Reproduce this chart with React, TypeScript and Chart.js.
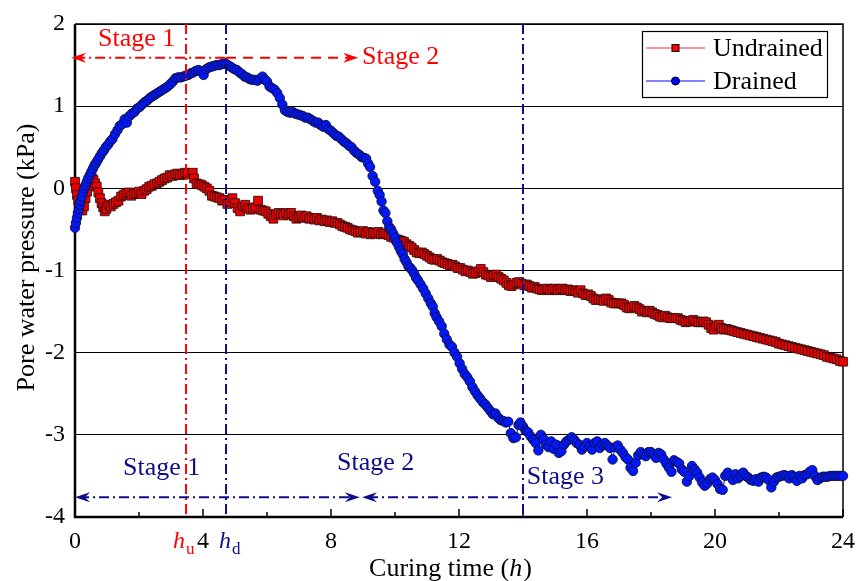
import React, { useEffect, useRef } from 'react';
import { Chart, registerables } from 'chart.js';

Chart.register(...registerables);

const FONT = '"Liberation Serif", "Times New Roman", Times, serif';
const RED = '#ff0000';
const NAVY = '#0d0d8a';

// Axis tick values
const xTickValues = [0, 4, 8, 12, 16, 20, 24];
const xMinorTicks = [2, 6, 10, 14, 18, 22];
const yTickValues = [-4, -3, -2, -1, 0, 1, 2];

const seriesNames = ['Undrained', 'Drained'];

// Curing time (h), pore water pressure (kPa) — undrained specimen
const undrained: [number, number][] = [
  [0.00, 0.08], [0.03, 0.00], [0.06, -0.08], [0.10, -0.15], [0.14, -0.20], [0.18, -0.25],
  [0.23, -0.27], [0.28, -0.22], [0.33, -0.12], [0.38, -0.04], [0.43, 0.03], [0.48, 0.08],
  [0.53, 0.12], [0.58, 0.10], [0.63, 0.06], [0.68, 0.02], [0.73, -0.05], [0.78, -0.12],
  [0.83, -0.18], [0.88, -0.23], [0.93, -0.28], [0.98, -0.25], [1.05, -0.20], [1.12, -0.22],
  [1.20, -0.19], [1.28, -0.17], [1.36, -0.15], [1.44, -0.10], [1.52, -0.08], [1.60, -0.06],
  [1.68, -0.05], [1.76, -0.09], [1.84, -0.07], [1.92, -0.06], [2.00, -0.04], [2.08, -0.07],
  [2.16, -0.03], [2.24, -0.01], [2.32, 0.02], [2.40, 0.03], [2.48, 0.05], [2.56, 0.06],
  [2.64, 0.08], [2.72, 0.10], [2.80, 0.12], [2.88, 0.13], [2.96, 0.16], [3.04, 0.15],
  [3.12, 0.17], [3.20, 0.18], [3.28, 0.16], [3.36, 0.17], [3.44, 0.19], [3.52, 0.18],
  [3.60, 0.17], [3.68, 0.19], [3.72, 0.12], [3.80, 0.06], [3.88, 0.05], [3.96, 0.04],
  [4.04, 0.02], [4.12, 0.00], [4.20, -0.03], [4.28, -0.09], [4.36, -0.10], [4.44, -0.11],
  [4.52, -0.12], [4.60, -0.15], [4.68, -0.14], [4.76, -0.19], [4.84, -0.16], [4.92, -0.12],
  [5.00, -0.18], [5.08, -0.24], [5.16, -0.28], [5.24, -0.22], [5.32, -0.20], [5.40, -0.24],
  [5.48, -0.26], [5.56, -0.25], [5.64, -0.23], [5.72, -0.15], [5.80, -0.26], [5.88, -0.27],
  [5.96, -0.28], [6.04, -0.31], [6.12, -0.34], [6.20, -0.37], [6.28, -0.32], [6.36, -0.30],
  [6.44, -0.31], [6.52, -0.33], [6.60, -0.30], [6.68, -0.32], [6.76, -0.30], [6.84, -0.34],
  [6.92, -0.37], [7.00, -0.35], [7.08, -0.33], [7.16, -0.36], [7.24, -0.34], [7.32, -0.37],
  [7.40, -0.36], [7.48, -0.38], [7.56, -0.36], [7.64, -0.39], [7.72, -0.38], [7.80, -0.40],
  [7.88, -0.39], [7.96, -0.41], [8.04, -0.40], [8.12, -0.42], [8.20, -0.42], [8.28, -0.44],
  [8.36, -0.46], [8.44, -0.47], [8.52, -0.48], [8.60, -0.50], [8.68, -0.51], [8.76, -0.52],
  [8.84, -0.54], [8.92, -0.53], [9.00, -0.52], [9.08, -0.55], [9.16, -0.53], [9.24, -0.56],
  [9.32, -0.54], [9.40, -0.55], [9.48, -0.53], [9.56, -0.56], [9.64, -0.55], [9.72, -0.55],
  [9.80, -0.57], [9.88, -0.59], [9.96, -0.60], [10.04, -0.62], [10.12, -0.63], [10.20, -0.64],
  [10.28, -0.65], [10.36, -0.68], [10.44, -0.70], [10.52, -0.72], [10.60, -0.75], [10.68, -0.78],
  [10.76, -0.79], [10.84, -0.78], [10.92, -0.80], [11.00, -0.82], [11.08, -0.84], [11.16, -0.86],
  [11.24, -0.87], [11.32, -0.86], [11.40, -0.88], [11.48, -0.90], [11.56, -0.91], [11.64, -0.92],
  [11.72, -0.94], [11.80, -0.93], [11.88, -0.95], [11.96, -0.97], [12.04, -0.97], [12.12, -0.99],
  [12.20, -1.01], [12.28, -1.00], [12.36, -1.02], [12.44, -1.04], [12.52, -1.03], [12.60, -1.01],
  [12.68, -0.98], [12.76, -1.02], [12.84, -1.05], [12.92, -1.06], [13.00, -1.08], [13.08, -1.06],
  [13.16, -1.05], [13.24, -1.08], [13.32, -1.10], [13.40, -1.12], [13.48, -1.15], [13.56, -1.18],
  [13.64, -1.19], [13.72, -1.17], [13.80, -1.15], [13.88, -1.14], [13.96, -1.16], [14.04, -1.18],
  [14.12, -1.17], [14.20, -1.19], [14.28, -1.21], [14.36, -1.20], [14.44, -1.22], [14.52, -1.23],
  [14.60, -1.24], [14.68, -1.23], [14.76, -1.22], [14.84, -1.24], [14.92, -1.23], [15.00, -1.22],
  [15.08, -1.24], [15.16, -1.23], [15.24, -1.22], [15.32, -1.24], [15.40, -1.23], [15.48, -1.25],
  [15.56, -1.24], [15.64, -1.25], [15.72, -1.27], [15.80, -1.24], [15.88, -1.28], [15.96, -1.30],
  [16.04, -1.29], [16.12, -1.31], [16.20, -1.34], [16.28, -1.36], [16.36, -1.35], [16.44, -1.36],
  [16.52, -1.37], [16.60, -1.34], [16.68, -1.36], [16.76, -1.39], [16.84, -1.40], [16.92, -1.40],
  [17.00, -1.40], [17.08, -1.40], [17.16, -1.42], [17.24, -1.45], [17.32, -1.46], [17.40, -1.45],
  [17.48, -1.43], [17.56, -1.45], [17.64, -1.47], [17.72, -1.50], [17.80, -1.49], [17.88, -1.51],
  [17.96, -1.49], [18.04, -1.51], [18.12, -1.53], [18.20, -1.54], [18.28, -1.56], [18.36, -1.57],
  [18.44, -1.55], [18.52, -1.57], [18.60, -1.58], [18.68, -1.58], [18.76, -1.58], [18.84, -1.58],
  [18.92, -1.60], [19.00, -1.61], [19.08, -1.63], [19.16, -1.62], [19.24, -1.62], [19.32, -1.60],
  [19.40, -1.62], [19.48, -1.63], [19.56, -1.63], [19.64, -1.62], [19.72, -1.63], [19.80, -1.66],
  [19.88, -1.70], [19.96, -1.72], [20.04, -1.68], [20.12, -1.66], [20.20, -1.70], [20.28, -1.72],
  [20.36, -1.71], [20.44, -1.72], [20.52, -1.73], [20.60, -1.74], [20.70, -1.75], [20.80, -1.76],
  [20.90, -1.77], [21.00, -1.78], [21.10, -1.79], [21.20, -1.80], [21.30, -1.81], [21.40, -1.82],
  [21.50, -1.83], [21.60, -1.84], [21.70, -1.85], [21.80, -1.86], [21.90, -1.87], [22.00, -1.89],
  [22.10, -1.90], [22.20, -1.91], [22.30, -1.92], [22.40, -1.93], [22.50, -1.94], [22.60, -1.95],
  [22.70, -1.96], [22.80, -1.97], [22.90, -1.98], [23.00, -1.99], [23.10, -2.00], [23.20, -2.01],
  [23.30, -2.02], [23.40, -2.03], [23.50, -2.05], [23.60, -2.06], [23.70, -2.07], [23.80, -2.08],
  [23.90, -2.10], [24.00, -2.11],
];

// Curing time (h), pore water pressure (kPa) — drained specimen
const drained: [number, number][] = [
  [0.00, -0.48], [0.03, -0.42], [0.06, -0.36], [0.09, -0.30], [0.12, -0.25], [0.15, -0.20],
  [0.18, -0.15], [0.21, -0.10], [0.25, -0.05], [0.29, 0.00], [0.33, 0.04], [0.37, 0.08],
  [0.41, 0.12], [0.46, 0.16], [0.51, 0.20], [0.56, 0.24], [0.61, 0.28], [0.66, 0.31],
  [0.72, 0.35], [0.78, 0.39], [0.84, 0.43], [0.90, 0.46], [0.96, 0.50], [1.03, 0.53],
  [1.10, 0.57], [1.17, 0.60], [1.25, 0.66], [1.33, 0.71], [1.40, 0.76], [1.47, 0.78],
  [1.55, 0.84], [1.62, 0.80], [1.70, 0.88], [1.78, 0.91], [1.86, 0.93], [1.94, 0.97],
  [2.02, 0.99], [2.10, 1.02], [2.18, 1.05], [2.26, 1.07], [2.34, 1.10], [2.42, 1.12],
  [2.50, 1.14], [2.58, 1.16], [2.66, 1.18], [2.74, 1.20], [2.82, 1.22], [2.90, 1.24],
  [2.98, 1.27], [3.06, 1.30], [3.14, 1.34], [3.22, 1.35], [3.30, 1.35], [3.38, 1.36],
  [3.46, 1.37], [3.54, 1.38], [3.62, 1.40], [3.70, 1.41], [3.78, 1.43], [3.86, 1.44],
  [3.94, 1.42], [4.02, 1.38], [4.10, 1.45], [4.18, 1.47], [4.26, 1.48], [4.34, 1.49],
  [4.42, 1.50], [4.50, 1.50], [4.58, 1.51], [4.66, 1.52], [4.74, 1.51], [4.82, 1.49],
  [4.90, 1.47], [4.98, 1.45], [5.06, 1.44], [5.14, 1.41], [5.22, 1.39], [5.30, 1.36],
  [5.38, 1.35], [5.46, 1.33], [5.54, 1.32], [5.62, 1.32], [5.70, 1.31], [5.78, 1.33],
  [5.86, 1.36], [5.94, 1.32], [6.00, 1.30], [6.08, 1.24], [6.16, 1.22], [6.24, 1.20],
  [6.32, 1.16], [6.40, 1.10], [6.48, 1.02], [6.56, 0.95], [6.64, 0.93], [6.72, 0.92],
  [6.80, 0.93], [6.88, 0.91], [6.96, 0.90], [7.04, 0.89], [7.12, 0.88], [7.20, 0.86],
  [7.28, 0.86], [7.36, 0.84], [7.44, 0.82], [7.52, 0.80], [7.60, 0.80], [7.68, 0.77],
  [7.76, 0.75], [7.84, 0.77], [7.92, 0.72], [8.00, 0.70], [8.08, 0.67], [8.16, 0.64],
  [8.24, 0.63], [8.32, 0.60], [8.40, 0.57], [8.48, 0.55], [8.56, 0.52], [8.64, 0.50],
  [8.72, 0.46], [8.80, 0.43], [8.88, 0.41], [8.96, 0.38], [9.04, 0.37], [9.10, 0.36],
  [9.16, 0.30], [9.22, 0.26], [9.30, 0.15], [9.38, 0.08], [9.46, -0.03], [9.52, -0.08],
  [9.58, -0.16], [9.64, -0.27], [9.70, -0.30], [9.76, -0.40], [9.82, -0.47], [9.88, -0.50],
  [9.94, -0.55], [10.00, -0.60], [10.06, -0.66], [10.12, -0.71], [10.18, -0.76], [10.24, -0.80],
  [10.30, -0.86], [10.36, -0.90], [10.42, -0.95], [10.48, -0.97], [10.54, -1.00], [10.60, -1.04],
  [10.66, -1.09], [10.72, -1.12], [10.80, -1.17], [10.88, -1.22], [10.96, -1.28], [11.04, -1.34],
  [11.12, -1.40], [11.18, -1.44], [11.24, -1.52], [11.30, -1.57], [11.38, -1.62], [11.46, -1.68],
  [11.54, -1.77], [11.62, -1.84], [11.70, -1.90], [11.78, -1.93], [11.86, -2.00], [11.94, -2.05],
  [12.02, -2.13], [12.10, -2.20], [12.18, -2.26], [12.26, -2.30], [12.34, -2.35], [12.42, -2.42],
  [12.50, -2.47], [12.58, -2.52], [12.66, -2.56], [12.74, -2.60], [12.82, -2.63], [12.90, -2.67],
  [12.98, -2.71], [13.06, -2.75], [13.14, -2.74], [13.22, -2.79], [13.30, -2.82], [13.38, -2.83],
  [13.46, -2.85], [13.54, -2.84], [13.62, -2.98], [13.70, -3.04], [13.78, -3.03], [13.86, -2.88],
  [13.92, -2.85], [14.00, -2.90], [14.08, -2.95], [14.16, -2.97], [14.24, -3.02], [14.32, -3.06],
  [14.40, -3.10], [14.48, -3.19], [14.56, -3.00], [14.64, -3.05], [14.72, -3.12], [14.80, -3.15],
  [14.88, -3.08], [14.96, -3.17], [15.04, -3.12], [15.12, -3.22], [15.20, -3.20], [15.28, -3.12],
  [15.36, -3.08], [15.44, -3.06], [15.52, -3.03], [15.60, -3.06], [15.68, -3.10], [15.76, -3.12],
  [15.84, -3.18], [15.92, -3.14], [16.00, -3.10], [16.08, -3.14], [16.16, -3.18], [16.24, -3.10],
  [16.32, -3.08], [16.40, -3.16], [16.48, -3.12], [16.56, -3.10], [16.64, -3.13], [16.72, -3.16],
  [16.80, -3.30], [16.88, -3.15], [16.96, -3.13], [17.04, -3.18], [17.12, -3.22], [17.20, -3.27],
  [17.28, -3.30], [17.36, -3.40], [17.44, -3.44], [17.52, -3.34], [17.60, -3.25], [17.68, -3.21],
  [17.76, -3.24], [17.84, -3.26], [17.92, -3.21], [18.00, -3.21], [18.08, -3.24], [18.16, -3.28],
  [18.24, -3.22], [18.32, -3.24], [18.40, -3.30], [18.48, -3.35], [18.56, -3.40], [18.64, -3.45],
  [18.72, -3.31], [18.80, -3.33], [18.88, -3.35], [18.96, -3.42], [19.04, -3.45], [19.12, -3.57],
  [19.20, -3.50], [19.28, -3.38], [19.36, -3.42], [19.44, -3.46], [19.52, -3.52], [19.60, -3.58],
  [19.68, -3.62], [19.76, -3.59], [19.84, -3.54], [19.92, -3.52], [20.00, -3.55], [20.08, -3.60],
  [20.16, -3.66], [20.24, -3.67], [20.32, -3.50], [20.40, -3.46], [20.48, -3.50], [20.56, -3.55],
  [20.64, -3.48], [20.72, -3.53], [20.80, -3.50], [20.88, -3.46], [20.96, -3.50], [21.04, -3.52],
  [21.12, -3.55], [21.20, -3.56], [21.28, -3.54], [21.36, -3.57], [21.44, -3.52], [21.52, -3.51],
  [21.60, -3.52], [21.68, -3.55], [21.76, -3.64], [21.84, -3.57], [21.92, -3.52], [22.00, -3.51],
  [22.08, -3.50], [22.16, -3.49], [22.24, -3.50], [22.32, -3.53], [22.40, -3.49], [22.48, -3.51],
  [22.56, -3.56], [22.64, -3.50], [22.72, -3.53], [22.80, -3.49], [22.88, -3.48], [22.96, -3.45],
  [23.04, -3.43], [23.12, -3.50], [23.20, -3.55], [23.28, -3.53], [23.36, -3.51], [23.44, -3.51],
  [23.52, -3.51], [23.60, -3.50], [23.68, -3.50], [23.76, -3.50], [23.84, -3.50], [23.92, -3.50],
  [24.00, -3.50],
];

// Stage boundaries (h)
const hU = 3.47;
const hD = 4.72;
const drainedStage3 = 14;

// Stage arrows: y level (kPa)
const undrainedArrowY = 1.59;
const drainedArrowY = -3.76;

type Ctx = CanvasRenderingContext2D;

function arrowHead(ctx: Ctx, tipX: number, y: number, dir: number, color: string) {
  const len = 15;
  const half = 5;
  const notch = 10;
  ctx.save();
  ctx.setLineDash([]);
  ctx.fillStyle = color;
  ctx.beginPath();
  ctx.moveTo(tipX, y);
  ctx.lineTo(tipX - dir * len, y - half);
  ctx.lineTo(tipX - dir * notch, y);
  ctx.lineTo(tipX - dir * len, y + half);
  ctx.closePath();
  ctx.fill();
  ctx.restore();
}

function segment(ctx: Ctx, x1: number, x2: number, y: number, color: string, dash: number[]) {
  ctx.save();
  ctx.strokeStyle = color;
  ctx.lineWidth = 2;
  ctx.setLineDash(dash);
  ctx.beginPath();
  ctx.moveTo(x1, y);
  ctx.lineTo(x2, y);
  ctx.stroke();
  ctx.restore();
}

const DASH_DOT = [10, 4, 2, 4];
const DASHED = [10, 7];

const overlayPlugin = {
  id: 'stageOverlay',
  beforeDatasetsDraw(chart: any) {
    const { ctx, chartArea: a } = chart;
    const xs = chart.scales.x;
    ctx.save();
    ctx.strokeStyle = '#000';
    ctx.setLineDash([]);
    ctx.lineWidth = 1.5;
    ctx.beginPath();
    ctx.moveTo(a.left, a.top);
    ctx.lineTo(a.right, a.top);
    ctx.lineTo(a.right, a.bottom);
    ctx.stroke();
    ctx.lineWidth = 2.5;
    ctx.beginPath();
    ctx.moveTo(a.left, a.top);
    ctx.lineTo(a.left, a.bottom);
    ctx.lineTo(a.right, a.bottom);
    ctx.stroke();
    // inward ticks on the time axis
    ctx.lineWidth = 1.5;
    for (const v of xTickValues) {
      const px = xs.getPixelForValue(v);
      ctx.beginPath();
      ctx.moveTo(px, a.bottom);
      ctx.lineTo(px, a.bottom - 8);
      ctx.stroke();
    }
    for (const v of xMinorTicks) {
      const px = xs.getPixelForValue(v);
      ctx.beginPath();
      ctx.moveTo(px, a.bottom);
      ctx.lineTo(px, a.bottom - 5);
      ctx.stroke();
    }
    ctx.restore();
  },
  afterDatasetsDraw(chart: any) {
    const { ctx, chartArea: a } = chart;
    const xs = chart.scales.x;
    const ys = chart.scales.y;
    const X = (v: number) => xs.getPixelForValue(v);
    const Y = (v: number) => ys.getPixelForValue(v);

    // vertical stage boundaries
    const verticals: [number, string][] = [[hU, RED], [hD, NAVY], [drainedStage3, NAVY]];
    for (const [v, c] of verticals) {
      ctx.save();
      ctx.strokeStyle = c;
      ctx.lineWidth = 2;
      ctx.setLineDash(DASH_DOT);
      ctx.beginPath();
      ctx.moveTo(X(v), a.top);
      ctx.lineTo(X(v), a.bottom);
      ctx.stroke();
      ctx.restore();
    }

    // undrained stage arrows
    const ry = Y(undrainedArrowY);
    segment(ctx, X(-0.12) + 4, X(hD), ry, RED, DASH_DOT);
    segment(ctx, X(hD), X(8.85) - 6, ry, RED, DASHED);
    arrowHead(ctx, X(-0.12), ry, -1, RED);
    arrowHead(ctx, X(8.85), ry, 1, RED);

    // drained stage arrows
    const by = Y(drainedArrowY);
    segment(ctx, X(0) + 4, X(8.9) - 6, by, NAVY, DASH_DOT);
    arrowHead(ctx, X(0), by, -1, NAVY);
    arrowHead(ctx, X(8.9), by, 1, NAVY);
    segment(ctx, X(8.97) + 6, X(18.66) - 6, by, NAVY, DASH_DOT);
    arrowHead(ctx, X(8.97), by, -1, NAVY);
    arrowHead(ctx, X(18.66), by, 1, NAVY);

    // stage labels
    ctx.save();
    ctx.font = `26px ${FONT}`;
    ctx.textAlign = 'left';
    ctx.textBaseline = 'middle';
    const labels: [string, number, number, string][] = [
      ['Stage 1', 0.72, 1.82, RED],
      ['Stage 2', 8.97, 1.6, RED],
      ['Stage 1', 1.5, -3.41, NAVY],
      ['Stage 2', 8.19, -3.35, NAVY],
      ['Stage 3', 14.12, -3.52, NAVY],
    ];
    for (const [t, x, y, c] of labels) {
      ctx.fillStyle = c;
      ctx.fillText(t, X(x), Y(y));
    }
    ctx.restore();

    // legend
    ctx.save();
    const lx = 642, ly = 31, lw = 185, lh = 66;
    ctx.fillStyle = '#fff';
    ctx.fillRect(lx, ly, lw, lh);
    ctx.strokeStyle = '#000';
    ctx.lineWidth = 1.2;
    ctx.strokeRect(lx + 0.5, ly + 0.5, lw, lh);
    const rows: [string, string, string, number][] = [
      [seriesNames[0], '#ff7070', 'rect', ly + 17],
      [seriesNames[1], '#5a5aff', 'circle', ly + 50],
    ];
    for (const [name, lineColor, shape, ry2] of rows) {
      ctx.strokeStyle = lineColor;
      ctx.lineWidth = 1.5;
      ctx.beginPath();
      ctx.moveTo(lx + 4, ry2);
      ctx.lineTo(lx + 63, ry2);
      ctx.stroke();
      ctx.lineWidth = 1;
      ctx.strokeStyle = '#000';
      if (shape === 'rect') {
        ctx.fillStyle = RED;
        ctx.fillRect(lx + 30, ry2 - 3.5, 7, 7);
        ctx.strokeRect(lx + 30, ry2 - 3.5, 7, 7);
      } else {
        ctx.fillStyle = '#0000ff';
        ctx.beginPath();
        ctx.arc(lx + 33.5, ry2, 4, 0, Math.PI * 2);
        ctx.fill();
        ctx.stroke();
      }
      ctx.fillStyle = '#000';
      ctx.font = `26px ${FONT}`;
      ctx.textAlign = 'left';
      ctx.textBaseline = 'middle';
      ctx.fillText(name, lx + 71, ry2 + 1);
    }
    ctx.restore();
  },
  afterDraw(chart: any) {
    const { ctx, chartArea: a } = chart;
    const xs = chart.scales.x;
    ctx.save();
    ctx.textBaseline = 'alphabetic';
    ctx.textAlign = 'left';
    // h_u and h_d markers below the time axis
    const marks: [number, string, string, number][] = [
      [hU, 'u', RED, -13],
      [hD, 'd', NAVY, -7],
    ];
    for (const [v, sub, c, off] of marks) {
      const px = xs.getPixelForValue(v) + off;
      ctx.fillStyle = c;
      ctx.font = `italic 24px ${FONT}`;
      ctx.fillText('h', px, 548);
      const w = ctx.measureText('h').width;
      ctx.font = `17px ${FONT}`;
      ctx.fillText(sub, px + w + 1, 554);
    }

    // time axis title with italic unit symbol
    ctx.fillStyle = '#000';
    const p1 = 'Curing time (';
    const p2 = 'h';
    const p3 = ')';
    ctx.font = `26px ${FONT}`;
    const w1 = ctx.measureText(p1).width;
    const w3 = ctx.measureText(p3).width;
    ctx.font = `italic 26px ${FONT}`;
    const w2 = ctx.measureText(p2).width;
    const total = w1 + w2 + w3;
    const cx = (a.left + a.right) / 2 - 9;
    const x0 = cx - total / 2;
    ctx.font = `26px ${FONT}`;
    ctx.fillText(p1, x0, 576);
    ctx.font = `italic 26px ${FONT}`;
    ctx.fillText(p2, x0 + w1, 576);
    ctx.font = `26px ${FONT}`;
    ctx.fillText(p3, x0 + w1 + w2 + 1, 576);

    // pressure axis title
    ctx.translate(27, (a.top + a.bottom) / 2 - 13);
    ctx.rotate(-Math.PI / 2);
    ctx.textAlign = 'center';
    ctx.textBaseline = 'middle';
    ctx.font = `26px ${FONT}`;
    ctx.fillText('Pore water pressure (kPa)', 0, 0);
    ctx.restore();
  },
};

export default function App() {
  const canvasRef = useRef<HTMLCanvasElement | null>(null);

  useEffect(() => {
    const canvas = canvasRef.current;
    if (!canvas) return;
    const chart = new Chart(canvas, {
      type: 'line',
      data: {
        datasets: [
          {
            label: seriesNames[1],
            data: drained.map(([x, y]) => ({ x, y })),
            borderColor: '#0000ff',
            borderWidth: 1,
            pointStyle: 'circle',
            pointRadius: 4.7,
            pointBackgroundColor: '#0018ff',
            pointBorderColor: '#101030',
            pointBorderWidth: 0.9,
            clip: false,
          },
          {
            label: seriesNames[0],
            data: undrained.map(([x, y]) => ({ x, y })),
            borderColor: '#ff0000',
            borderWidth: 1,
            pointStyle: 'rect',
            pointRadius: 6.2,
            pointBackgroundColor: '#ee0000',
            pointBorderColor: '#301010',
            pointBorderWidth: 0.9,
            clip: false,
          },
        ],
      } as any,
      options: {
        responsive: false,
        animation: false,
        parsing: false,
        layout: { padding: { top: 24, right: 14, left: 0, bottom: 0 } },
        plugins: {
          legend: { display: false },
          tooltip: { enabled: false },
          title: { display: false },
        },
        scales: {
          x: {
            type: 'linear',
            min: 0,
            max: 24,
            afterBuildTicks: (s: any) => {
              s.ticks = xTickValues.map((value) => ({ value }));
            },
            grid: { display: false, drawTicks: false },
            border: { display: false },
            ticks: {
              color: '#000',
              font: { family: FONT, size: 24 },
              padding: 10,
              maxRotation: 0,
              autoSkip: false,
            },
            afterFit: (s: any) => {
              s.height = 64;
              s.paddingLeft = 0;
              s.paddingRight = 0;
            },
          },
          y: {
            type: 'linear',
            min: -4,
            max: 2,
            afterBuildTicks: (s: any) => {
              s.ticks = yTickValues.map((value) => ({ value }));
            },
            grid: { color: '#000', lineWidth: 1, drawTicks: false },
            border: { display: false },
            ticks: {
              color: '#000',
              font: { family: FONT, size: 24 },
              padding: 10,
              autoSkip: false,
            },
            afterFit: (s: any) => {
              s.width = 75;
              s.paddingTop = 0;
              s.paddingBottom = 0;
            },
          },
        },
      } as any,
      plugins: [overlayPlugin],
    });
    return () => chart.destroy();
  }, []);

  return (
    <div style={{ position: 'fixed', left: 0, top: 0, width: 857, height: 581, background: '#fff' }}>
      <canvas ref={canvasRef} width={857} height={581} style={{ display: 'block' }} />
    </div>
  );
}
